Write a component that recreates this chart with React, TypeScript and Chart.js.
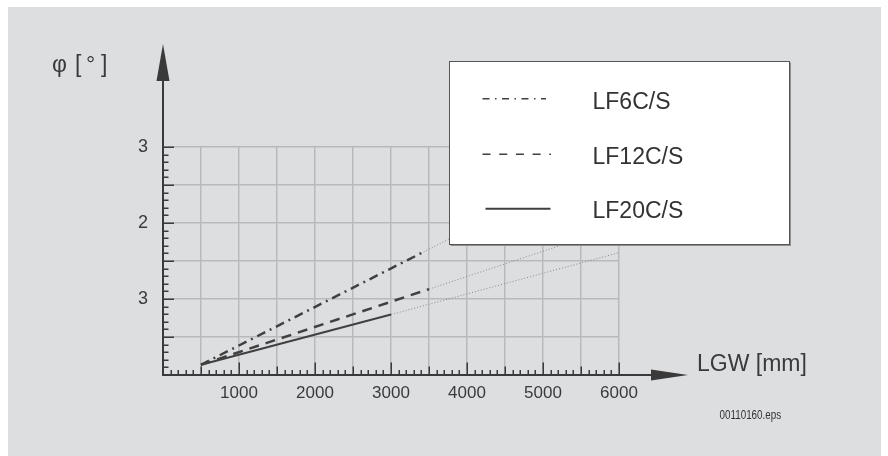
import React, { useEffect, useRef } from "react";
import { Chart, registerables } from "chart.js";

Chart.register(...registerables);

// ---- data ----
const seriesNames = ["LF6C/S", "LF12C/S", "LF20C/S"];
const lf6X = [500, 3430];
const lf6Y = [0.27, 3.24];
const lf6ExtX = [3430, 6000];
const lf6ExtY = [3.24, 5.84];
const lf12X = [500, 3500];
const lf12Y = [0.27, 2.26];
const lf12ExtX = [3500, 6000];
const lf12ExtY = [2.26, 3.92];
const lf20X = [500, 3000];
const lf20Y = [0.27, 1.59];
const lf20ExtX = [3000, 6000];
const lf20ExtY = [1.59, 3.22];

const xTickLabels = ["1000", "2000", "3000", "4000", "5000", "6000"];
const yTickValues = [2, 4, 6];
const yTickLabels = ["3", "2", "3"];

const xAxisTitle = "LGW [mm]";
const yAxisTitleParts = ["φ", "[", "°", "]"];
const footnote = "00110160.eps";

const pts = (xs: number[], ys: number[]) => xs.map((x, i) => ({ x, y: ys[i] }));

const INK = "#3a3a3a";
const FONT = "'Liberation Sans', Arial, sans-serif";

const decorPlugin = {
  id: "decor",
  beforeDraw(chart: any) {
    const ctx = chart.ctx;
    ctx.save();
    ctx.fillStyle = "#ffffff";
    ctx.fillRect(0, 0, chart.width, chart.height);
    ctx.fillStyle = "#dddee0";
    ctx.fillRect(8, 7, 873, 449);
    ctx.restore();
  },
  afterDraw(chart: any) {
    const ctx = chart.ctx;
    const xs = chart.scales.x;
    const ys = chart.scales.y;
    const x0 = xs.getPixelForValue(0);
    const y0 = ys.getPixelForValue(0);
    ctx.save();
    ctx.strokeStyle = INK;
    ctx.fillStyle = INK;

    // minor ticks x
    ctx.lineWidth = 1.5;
    for (let v = 100; v <= 6000; v += 100) {
      const px = Math.round(xs.getPixelForValue(v)) + 0.25;
      let len = 5;
      if (v % 1000 === 0) len = 12.5;
      else if (v % 500 === 0) len = 8.5;
      ctx.beginPath();
      ctx.moveTo(px, y0);
      ctx.lineTo(px, y0 - len);
      ctx.stroke();
    }
    // minor ticks y
    for (let k = 1; k <= 30; k++) {
      const v = k * 0.2;
      const py = Math.round(ys.getPixelForValue(v)) + 0.25;
      const len = k % 5 === 0 ? 11 : 5.5;
      ctx.beginPath();
      ctx.moveTo(x0, py);
      ctx.lineTo(x0 + len, py);
      ctx.stroke();
    }

    // axes
    ctx.lineWidth = 2;
    ctx.beginPath();
    ctx.moveTo(x0, y0);
    ctx.lineTo(x0, 80);
    ctx.moveTo(x0 - 1, y0);
    ctx.lineTo(652, y0);
    ctx.stroke();
    // arrows
    ctx.beginPath();
    ctx.moveTo(x0, 44);
    ctx.lineTo(x0 - 6.5, 81);
    ctx.lineTo(x0 + 6.5, 81);
    ctx.closePath();
    ctx.fill();
    ctx.beginPath();
    ctx.moveTo(688, y0);
    ctx.lineTo(651, y0 - 5.5);
    ctx.lineTo(651, y0 + 5.5);
    ctx.closePath();
    ctx.fill();

    // axis titles
    ctx.fillStyle = INK;
    ctx.textBaseline = "alphabetic";
    ctx.textAlign = "left";
    ctx.font = `23px ${FONT}`;
    ctx.fillText(xAxisTitle, 697, 370.5);
    ctx.font = `23px ${FONT}`;
    const phiX = [52, 75, 86, 101];
    yAxisTitleParts.forEach((t, i) => ctx.fillText(t, phiX[i], 72));

    // footnote (condensed)
    ctx.save();
    ctx.translate(719.5, 419);
    ctx.scale(0.82, 1);
    ctx.font = `12px ${FONT}`;
    ctx.fillStyle = "#333";
    ctx.fillText(footnote, 0, 0);
    ctx.restore();

    // legend box
    const bx = 449.5, by = 61.5, bw = 340, bh = 183;
    ctx.fillStyle = "#ffffff";
    ctx.fillRect(bx, by, bw, bh);
    ctx.strokeStyle = "#8f8f8f";
    ctx.lineWidth = 2;
    ctx.beginPath();
    ctx.moveTo(bx + 1, by + bh + 0.5);
    ctx.lineTo(bx + bw + 0.5, by + bh + 0.5);
    ctx.lineTo(bx + bw + 0.5, by + 1);
    ctx.stroke();
    ctx.strokeStyle = "#555";
    ctx.lineWidth = 1;
    ctx.strokeRect(bx, by, bw, bh);

    const sampleY = [98.7, 154.3, 208.7];
    const textY = [109.3, 164.2, 218.4];
    const sampleDash = [[7, 5.5, 1.5, 5.5], [8, 8.7], []];
    const sampleX = [[482.5, 546], [482.5, 551], [485.5, 550.5]];
    const sampleW = [1.5, 1.5, 2];
    for (let i = 0; i < 3; i++) {
      const ds = chart.data.datasets[i];
      ctx.strokeStyle = ds.borderColor;
      ctx.lineWidth = sampleW[i];
      ctx.setLineDash(sampleDash[i]);
      ctx.beginPath();
      ctx.moveTo(sampleX[i][0], sampleY[i]);
      ctx.lineTo(sampleX[i][1], sampleY[i]);
      ctx.stroke();
      ctx.setLineDash([]);
      ctx.fillStyle = "#333";
      ctx.font = `23px ${FONT}`;
      ctx.fillText(ds.label, 592.5, textY[i]);
    }
    ctx.restore();
  },
};

export default function App() {
  const ref = useRef<HTMLCanvasElement>(null);
  useEffect(() => {
    if (!ref.current) return;
    const lineColor = "#404040";
    const dotColor = "#8a8a8a";
    const common = { pointRadius: 0, fill: false, tension: 0, clip: false as any };
    const chart = new Chart(ref.current, {
      type: "line",
      data: {
        datasets: [
          { label: seriesNames[0], data: pts(lf6X, lf6Y), borderColor: lineColor, borderWidth: 2.5, borderDash: [9, 5, 2, 5], ...common },
          { label: seriesNames[1], data: pts(lf12X, lf12Y), borderColor: lineColor, borderWidth: 2.5, borderDash: [10, 7], ...common },
          { label: seriesNames[2], data: pts(lf20X, lf20Y), borderColor: lineColor, borderWidth: 2, ...common },
          { label: seriesNames[0] + " ext", data: pts(lf6ExtX, lf6ExtY), borderColor: dotColor, borderWidth: 1, borderDash: [1, 2], ...common },
          { label: seriesNames[1] + " ext", data: pts(lf12ExtX, lf12ExtY), borderColor: dotColor, borderWidth: 1, borderDash: [1, 2], ...common },
          { label: seriesNames[2] + " ext", data: pts(lf20ExtX, lf20ExtY), borderColor: dotColor, borderWidth: 1, borderDash: [1, 2], ...common },
        ],
      },
      options: {
        responsive: false,
        animation: false,
        events: [],
        layout: { padding: { left: 0, right: 269, top: 147, bottom: 0 } },
        plugins: { legend: { display: false }, tooltip: { enabled: false } },
        scales: {
          x: {
            type: "linear",
            min: 0,
            max: 6000,
            border: { display: false },
            grid: { color: "#b9b9b9", lineWidth: 1.5, drawTicks: false },
            afterFit: (s: any) => { s.height = 81; },
            ticks: {
              stepSize: 500,
              autoSkip: false,
              maxRotation: 0,
              padding: 8,
              color: INK,
              font: { family: FONT, size: 17 },
              callback: (v: any) => {
                const idx = Number(v) / 1000 - 1;
                return Number(v) % 1000 === 0 && idx >= 0 ? xTickLabels[idx] : "";
              },
            },
          },
          y: {
            type: "linear",
            min: 0,
            max: 6,
            border: { display: false },
            grid: { color: "#b9b9b9", lineWidth: 1.5, drawTicks: false },
            afterFit: (s: any) => { s.width = 163; },
            ticks: {
              stepSize: 1,
              autoSkip: false,
              padding: 15,
              color: INK,
              font: { family: FONT, size: 18 },
              callback: (v: any) => {
                const i = yTickValues.indexOf(Number(v));
                return i >= 0 ? yTickLabels[i] : "";
              },
            },
          },
        },
      } as any,
      plugins: [decorPlugin],
    });
    return () => chart.destroy();
  }, []);
  return (
    <div style={{ position: "fixed", left: 0, top: 0, width: 888, height: 456, background: "#fff" }}>
      <canvas ref={ref} width={888} height={456} style={{ display: "block", width: 888, height: 456 }} />
    </div>
  );
}
